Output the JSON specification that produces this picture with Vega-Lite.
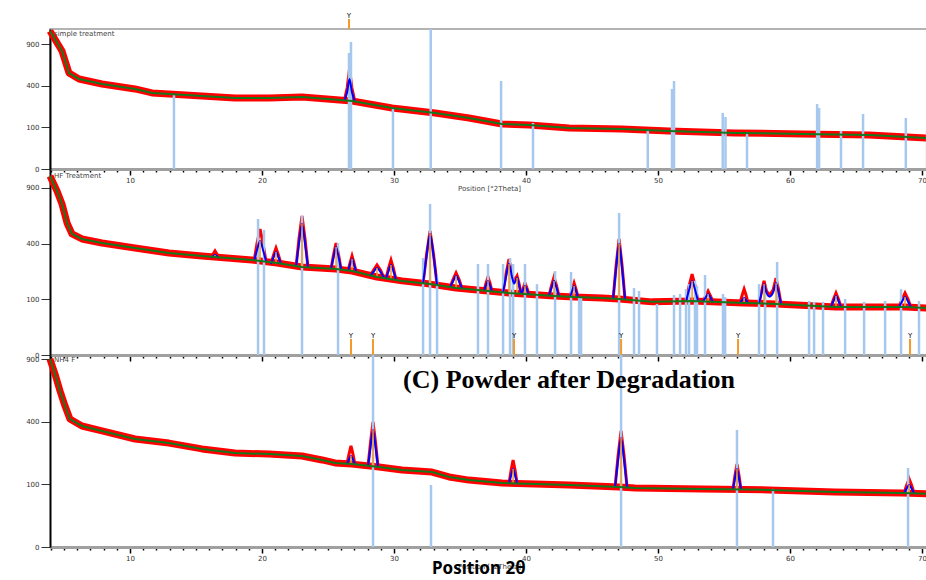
{
  "$schema": "https://vega.github.io/schema/vega-lite/v6.json",
  "background": "white",
  "padding": {"left": 24, "top": 11, "right": 0, "bottom": 0},
  "bounds": "flush",
  "spacing": 0,
  "title": {"text": "Position 2θ", "orient": "bottom", "anchor": "middle", "font": "Noto Sans", "fontSize": 17, "fontWeight": "bold", "color": "#000000", "offset": -8},
  "datasets": {
    "p1_bg": [{"x":3.94,"y":1097},{"x":4.85,"y":802},{"x":5.38,"y":531},{"x":6.14,"y":467},{"x":7.88,"y":416},{"x":10.38,"y":369},{"x":11.67,"y":333},{"x":12.95,"y":324},{"x":15.45,"y":307},{"x":17.95,"y":290},{"x":20.53,"y":290},{"x":23.03,"y":299},{"x":26.82,"y":266},{"x":29.85,"y":214},{"x":33.11,"y":181},{"x":35.68,"y":150},{"x":38.18,"y":117},{"x":40.23,"y":112},{"x":43.26,"y":97},{"x":47.27,"y":92},{"x":50.83,"y":83},{"x":55.83,"y":75},{"x":60.91,"y":71},{"x":65.98,"y":67},{"x":70.45,"y":55}],
    "p1_pk": [{"pk":1,"x":26.23,"fit":268,"obs":268},{"pk":1,"x":26.45,"fit":341,"obs":378},{"pk":1,"x":26.63,"fit":467,"obs":576,"base":266},{"pk":1,"x":26.81,"fit":341,"obs":378},{"pk":1,"x":27.03,"fit":264,"obs":264}],
    "p1_st": [{"x":13.33,"top":324},{"x":26.59,"top":775},{"x":26.74,"top":929},{"x":29.92,"top":214},{"x":32.78,"top":1129},{"x":38.11,"top":446},{"x":40.53,"top":122},{"x":49.22,"top":92},{"x":51.06,"top":369},{"x":51.21,"top":446},{"x":54.9,"top":181},{"x":55.11,"top":156},{"x":56.74,"top":79},{"x":62.05,"top":243},{"x":62.2,"top":214},{"x":63.86,"top":83},{"x":65.53,"top":174},{"x":68.77,"top":150},{"x":70.38,"top":83}],
    "p1_mk": [{"x":26.59}],
    "p2_bg": [{"x":3.94,"y":1033},{"x":4.47,"y":867},{"x":4.85,"y":735},{"x":5.23,"y":562},{"x":5.61,"y":472},{"x":6.36,"y":434},{"x":7.88,"y":404},{"x":10.38,"y":369},{"x":12.95,"y":335},{"x":15.45,"y":316},{"x":19.24,"y":291},{"x":21.14,"y":273},{"x":23.03,"y":250},{"x":25.6,"y":238},{"x":26.82,"y":227},{"x":28.71,"y":196},{"x":30.61,"y":177},{"x":32.73,"y":162},{"x":34.7,"y":145},{"x":37.12,"y":132},{"x":38.71,"y":124},{"x":42.12,"y":112},{"x":43.64,"y":108},{"x":45.76,"y":105},{"x":47.05,"y":101},{"x":49.55,"y":91},{"x":52.58,"y":94},{"x":56.52,"y":87},{"x":58.94,"y":84},{"x":63.48,"y":74},{"x":68.71,"y":74},{"x":70.45,"y":71}],
    "p2_pk": [
      {"pk":1,"x":16.14,"fit":303,"obs":303},{"pk":1,"x":16.29,"fit":314,"obs":328},{"pk":1,"x":16.44,"fit":322,"obs":349,"base":303},{"pk":1,"x":16.59,"fit":314,"obs":328},{"pk":1,"x":16.74,"fit":303,"obs":303},
      {"pk":2,"x":19.4,"fit":285,"obs":285},{"pk":2,"x":19.62,"fit":355,"obs":401},{"pk":2,"x":19.85,"fit":419,"obs":512,"base":285},{"pk":2,"x":20.08,"fit":355,"obs":401},{"pk":2,"x":20.3,"fit":283,"obs":283},
      {"pk":3,"x":20.68,"fit":267,"obs":267},{"pk":3,"x":20.87,"fit":307,"obs":321},{"pk":3,"x":21.06,"fit":342,"obs":369,"base":267},{"pk":3,"x":21.25,"fit":307,"obs":321},{"pk":3,"x":21.44,"fit":267,"obs":267},
      {"pk":4,"x":22.58,"fit":252,"obs":252},{"pk":4,"x":22.8,"fit":402,"obs":434},{"pk":4,"x":23.03,"fit":553,"obs":623,"base":250},{"pk":4,"x":23.26,"fit":402,"obs":434},{"pk":4,"x":23.48,"fit":248,"obs":248},
      {"pk":5,"x":25.23,"fit":240,"obs":240},{"pk":5,"x":25.42,"fit":310,"obs":324},{"pk":5,"x":25.61,"fit":376,"obs":404,"base":238},{"pk":5,"x":25.8,"fit":310,"obs":324},{"pk":5,"x":25.99,"fit":236,"obs":236},
      {"pk":6,"x":26.52,"fit":229,"obs":229},{"pk":6,"x":26.67,"fit":265,"obs":274},{"pk":6,"x":26.82,"fit":297,"obs":316,"base":227},{"pk":6,"x":26.97,"fit":265,"obs":274},{"pk":6,"x":27.12,"fit":225,"obs":225},
      {"pk":7,"x":28.18,"fit":200,"obs":200},{"pk":7,"x":28.44,"fit":222,"obs":231},{"pk":7,"x":28.71,"fit":244,"obs":261,"base":196},{"pk":7,"x":28.98,"fit":222,"obs":231},{"pk":7,"x":29.24,"fit":192,"obs":192},
      {"pk":8,"x":29.39,"fit":188,"obs":188},{"pk":8,"x":29.58,"fit":226,"obs":241},{"pk":8,"x":29.77,"fit":261,"obs":291,"base":186},{"pk":8,"x":29.96,"fit":226,"obs":241},{"pk":8,"x":30.15,"fit":182,"obs":182},
      {"pk":9,"x":32.2,"fit":165,"obs":165},{"pk":9,"x":32.46,"fit":313,"obs":323},{"pk":9,"x":32.73,"fit":472,"obs":496,"base":162},{"pk":9,"x":33.0,"fit":313,"obs":323},{"pk":9,"x":33.26,"fit":159,"obs":159},
      {"pk":10,"x":34.25,"fit":148,"obs":148},{"pk":10,"x":34.47,"fit":175,"obs":183},{"pk":10,"x":34.7,"fit":201,"obs":217,"base":145},{"pk":10,"x":34.93,"fit":175,"obs":183},{"pk":10,"x":35.15,"fit":143,"obs":143},
      {"pk":11,"x":36.82,"fit":134,"obs":134},{"pk":11,"x":36.97,"fit":156,"obs":166},{"pk":11,"x":37.12,"fit":177,"obs":196,"base":132},{"pk":11,"x":37.27,"fit":156,"obs":166},{"pk":11,"x":37.42,"fit":131,"obs":131},
      {"pk":12,"x":38.26,"fit":126,"obs":126},{"pk":12,"x":38.48,"fit":196,"obs":210},{"pk":12,"x":38.71,"fit":267,"obs":297,"base":124},{"pk":12,"x":38.94,"fit":196,"obs":210},{"pk":12,"x":39.1,"fit":165,"obs":175},{"pk":12,"x":39.32,"fit":191,"obs":201,"base":123},{"pk":12,"x":39.47,"fit":159,"obs":164},{"pk":12,"x":39.62,"fit":122,"obs":122},
      {"pk":13,"x":39.66,"fit":122,"obs":122},{"pk":13,"x":39.79,"fit":138,"obs":145},{"pk":13,"x":39.92,"fit":153,"obs":167,"base":120},{"pk":13,"x":40.07,"fit":138,"obs":145},{"pk":13,"x":40.22,"fit":118,"obs":118},
      {"pk":14,"x":41.74,"fit":113,"obs":113},{"pk":14,"x":41.93,"fit":146,"obs":155},{"pk":14,"x":42.12,"fit":177,"obs":196,"base":112},{"pk":14,"x":42.31,"fit":146,"obs":155},{"pk":14,"x":42.5,"fit":111,"obs":111},
      {"pk":15,"x":43.34,"fit":109,"obs":109},{"pk":15,"x":43.49,"fit":132,"obs":139},{"pk":15,"x":43.64,"fit":153,"obs":167,"base":108},{"pk":15,"x":43.79,"fit":132,"obs":139},{"pk":15,"x":43.94,"fit":107,"obs":107},
      {"pk":16,"x":46.6,"fit":102,"obs":102},{"pk":16,"x":46.82,"fit":240,"obs":255},{"pk":16,"x":47.05,"fit":397,"obs":434,"base":101},{"pk":16,"x":47.28,"fit":240,"obs":255},{"pk":16,"x":47.5,"fit":100,"obs":100},
      {"pk":17,"x":52.13,"fit":94,"obs":94},{"pk":17,"x":52.35,"fit":136,"obs":153},{"pk":17,"x":52.58,"fit":177,"obs":211,"base":94},{"pk":17,"x":52.81,"fit":136,"obs":153},{"pk":17,"x":53.03,"fit":93,"obs":93},
      {"pk":18,"x":53.41,"fit":92,"obs":92},{"pk":18,"x":53.6,"fit":106,"obs":112},{"pk":18,"x":53.79,"fit":120,"obs":132,"base":91},{"pk":18,"x":53.98,"fit":106,"obs":112},{"pk":18,"x":54.17,"fit":90,"obs":90},
      {"pk":19,"x":56.22,"fit":88,"obs":88},{"pk":19,"x":56.37,"fit":97,"obs":115},{"pk":19,"x":56.52,"fit":105,"obs":140,"base":87},{"pk":19,"x":56.67,"fit":97,"obs":115},{"pk":19,"x":56.82,"fit":86,"obs":86},
      {"pk":20,"x":57.65,"fit":85,"obs":85},{"pk":20,"x":57.84,"fit":124,"obs":131},{"pk":20,"x":58.03,"fit":162,"obs":177,"base":84},{"pk":20,"x":58.22,"fit":124,"obs":131},{"pk":20,"x":58.45,"fit":110,"obs":115},{"pk":20,"x":58.72,"fit":126,"obs":137},{"pk":20,"x":58.94,"fit":167,"obs":191,"base":84},{"pk":20,"x":59.13,"fit":126,"obs":137},{"pk":20,"x":59.32,"fit":84,"obs":84},
      {"pk":22,"x":63.1,"fit":75,"obs":75},{"pk":22,"x":63.29,"fit":94,"obs":100},{"pk":22,"x":63.48,"fit":112,"obs":124,"base":74},{"pk":22,"x":63.67,"fit":94,"obs":100},{"pk":22,"x":63.86,"fit":74,"obs":74},
      {"pk":23,"x":68.26,"fit":74,"obs":74},{"pk":23,"x":68.48,"fit":92,"obs":100},{"pk":23,"x":68.71,"fit":108,"obs":124,"base":74},{"pk":23,"x":68.94,"fit":92,"obs":100},{"pk":23,"x":69.16,"fit":73,"obs":73}
    ],
    "p2_st": [{"x":19.7,"top":596},{"x":20.15,"top":504},{"x":23.03,"top":623},{"x":25.76,"top":404},{"x":32.2,"top":303},{"x":32.73,"top":735},{"x":33.26,"top":201},{"x":36.36,"top":267},{"x":37.12,"top":267},{"x":38.26,"top":267},{"x":38.79,"top":303},{"x":39.02,"top":267},{"x":39.92,"top":267},{"x":40.83,"top":162},{"x":42.2,"top":227},{"x":43.41,"top":222},{"x":44.02,"top":105},{"x":44.17,"top":105},{"x":47.05,"top":650},{"x":48.18,"top":145},{"x":48.56,"top":132},{"x":49.92,"top":84},{"x":51.21,"top":116},{"x":51.67,"top":120},{"x":52.12,"top":140},{"x":52.35,"top":162},{"x":52.8,"top":177},{"x":52.95,"top":153},{"x":53.56,"top":206},{"x":54.92,"top":120},{"x":55.08,"top":108},{"x":57.65,"top":162},{"x":58.11,"top":153},{"x":59.02,"top":279},{"x":61.44,"top":94},{"x":61.82,"top":91},{"x":62.5,"top":91},{"x":64.17,"top":101},{"x":65.61,"top":91},{"x":67.2,"top":94},{"x":68.41,"top":140},{"x":69.77,"top":94}],
    "p2_mk": [{"x":26.74},{"x":28.41},{"x":39.09},{"x":47.2},{"x":56.06},{"x":69.09}],
    "p3_bg": [{"x":3.94,"y":900},{"x":4.32,"y":762},{"x":4.7,"y":620},{"x":5.08,"y":506},{"x":5.45,"y":417},{"x":6.36,"y":373},{"x":7.88,"y":343},{"x":10.38,"y":297},{"x":12.95,"y":275},{"x":15.45,"y":245},{"x":17.95,"y":225},{"x":20.53,"y":220},{"x":23.03,"y":211},{"x":24.55,"y":193},{"x":25.53,"y":180},{"x":26.82,"y":175},{"x":28.86,"y":163},{"x":30.61,"y":151},{"x":32.88,"y":143},{"x":34.17,"y":125},{"x":35.68,"y":114},{"x":38.18,"y":104},{"x":40.68,"y":101},{"x":43.26,"y":98},{"x":47.05,"y":92},{"x":48.26,"y":89},{"x":53.33,"y":86},{"x":58.41,"y":83},{"x":63.41,"y":77},{"x":68.48,"y":74},{"x":70.45,"y":72}],
    "p3_pk": [
      {"pk":1,"x":26.44,"fit":177,"obs":177},{"pk":1,"x":26.59,"fit":195,"obs":220},{"pk":1,"x":26.74,"fit":211,"obs":260,"base":175},{"pk":1,"x":26.89,"fit":195,"obs":220},{"pk":1,"x":27.04,"fit":173,"obs":173},
      {"pk":2,"x":28.03,"fit":166,"obs":166},{"pk":2,"x":28.22,"fit":256,"obs":279},{"pk":2,"x":28.41,"fit":349,"obs":398,"base":163},{"pk":2,"x":28.6,"fit":256,"obs":279},{"pk":2,"x":28.79,"fit":162,"obs":162},
      {"pk":3,"x":38.72,"fit":105,"obs":105},{"pk":3,"x":38.87,"fit":131,"obs":150},{"pk":3,"x":39.02,"fit":155,"obs":193,"base":104},{"pk":3,"x":39.17,"fit":131,"obs":150},{"pk":3,"x":39.32,"fit":104,"obs":104},
      {"pk":4,"x":46.75,"fit":93,"obs":93},{"pk":4,"x":46.97,"fit":192,"obs":210},{"pk":4,"x":47.2,"fit":303,"obs":343,"base":92},{"pk":4,"x":47.43,"fit":192,"obs":210},{"pk":4,"x":47.65,"fit":91,"obs":91},
      {"pk":5,"x":55.68,"fit":86,"obs":86},{"pk":5,"x":55.83,"fit":121,"obs":131},{"pk":5,"x":55.98,"fit":155,"obs":175,"base":86},{"pk":5,"x":56.13,"fit":121,"obs":131},{"pk":5,"x":56.28,"fit":85,"obs":85},
      {"pk":6,"x":68.64,"fit":74,"obs":74},{"pk":6,"x":68.83,"fit":87,"obs":97},{"pk":6,"x":69.02,"fit":98,"obs":118,"base":74},{"pk":6,"x":69.21,"fit":87,"obs":97},{"pk":6,"x":69.4,"fit":73,"obs":73}
    ],
    "p3_st": [{"x":28.41,"top":939},{"x":32.8,"top":98},{"x":47.2,"top":939},{"x":55.98,"top":349},{"x":58.71,"top":86},{"x":68.94,"top":159}]
  },
  "vconcat": [
    {
      "width": 878, "height": 140,
      "view": {"stroke": "#9a9a9a", "strokeWidth": 1.5},
      "encoding": {
        "x": {"field": "x", "type": "quantitative", "scale": {"domain": [3.94, 70.45], "nice": false, "zero": false},
          "axis": {"values": [4,5,6,7,8,9,10,11,12,13,14,15,16,17,18,19,20,21,22,23,24,25,26,27,28,29,30,31,32,33,34,35,36,37,38,39,40,41,42,43,44,45,46,47,48,49,50,51,52,53,54,55,56,57,58,59,60,61,62,63,64,65,66,67,68,69,70], "labelExpr": "datum.value % 10 === 0 ? datum.label : ''", "tickSize": {"condition": {"test": "datum.value % 10 === 0", "value": 6}, "value": 3}, "tickColor": "#000000", "tickWidth": 1.5, "domainColor": "#a0a0a0", "domainWidth": 3, "labelFontSize": 7, "labelColor": "#333333", "labelPadding": 1, "labelFlush": false, "labelOverlap": false, "grid": false, "title": "Position [°2Theta]", "titleFontSize": 7, "titleFontWeight": "normal", "titleColor": "#444444", "titlePadding": 1}}
      },
      "layer": [
        {"data": {"name": "p1_bg"}, "mark": {"type": "line", "color": "#ff0000", "strokeWidth": 7, "strokeJoin": "round"},
          "encoding": {"y": {"field": "y", "type": "quantitative", "title": null, "scale": {"type": "sqrt", "domain": [0, 1129], "nice": false},
            "axis": {"values": [0,100,400,900], "domainColor": "#000000", "domainWidth": 2, "tickColor": "#333333", "tickSize": 9, "labelFontSize": 7, "labelColor": "#333333", "labelPadding": 2, "grid": false, "labelOverlap": false}}}},
        {"data": {"name": "p1_pk"}, "mark": {"type": "line", "color": "#ff0000", "strokeWidth": 3},
          "encoding": {"detail": {"field": "pk"}, "y": {"field": "obs", "type": "quantitative", "title": null, "scale": {"type": "sqrt", "domain": [0, 1129], "nice": false}}}},
        {"data": {"name": "p1_st"}, "mark": {"type": "rule", "color": "#a6c8ee", "strokeWidth": 2.5},
          "encoding": {"y": {"field": "top", "type": "quantitative", "title": null, "scale": {"type": "sqrt", "domain": [0, 1129], "nice": false}}, "y2": {"datum": 0}}},
        {"data": {"name": "p1_pk"}, "mark": {"type": "line", "color": "#0000ff", "strokeWidth": 2, "interpolate": "monotone"},
          "encoding": {"detail": {"field": "pk"}, "y": {"field": "fit", "type": "quantitative", "title": null, "scale": {"type": "sqrt", "domain": [0, 1129], "nice": false}}}},
        {"data": {"name": "p1_bg"}, "mark": {"type": "line", "color": "#137a1c", "strokeWidth": 2},
          "encoding": {"y": {"field": "y", "type": "quantitative", "title": null, "scale": {"type": "sqrt", "domain": [0, 1129], "nice": false}}}},
        {"data": {"name": "p1_mk"}, "mark": {"type": "rule", "color": "#f39a2b", "strokeWidth": 2},
          "encoding": {"y": {"datum": 1129, "scale": {"type": "sqrt", "domain": [0, 1129], "nice": false}}, "y2": {"datum": 1296}}},
        {"data": {"name": "p1_mk"}, "mark": {"type": "text", "text": "Y", "fontSize": 7, "baseline": "bottom", "color": "#000000", "font": "DejaVu Sans"},
          "encoding": {"y": {"datum": 1296, "scale": {"type": "sqrt", "domain": [0, 1129], "nice": false}}}},
        {"data": {"name": "p1_bg"}, "mark": {"type": "text", "text": "simple treatment", "align": "left", "baseline": "top", "fontSize": 7, "color": "#444444", "font": "DejaVu Sans", "dx": 4, "dy": 1},
          "encoding": {"x": {"aggregate": "min", "field": "x", "type": "quantitative", "title": null, "scale": {"domain": [3.94, 70.45], "nice": false, "zero": false}}, "y": {"datum": 1129, "scale": {"type": "sqrt", "domain": [0, 1129], "nice": false}}}}
      ]
    },
    {
      "width": 878, "height": 186,
      "view": {"stroke": null},
      "encoding": {
        "x": {"field": "x", "type": "quantitative", "scale": {"domain": [3.94, 70.45], "nice": false, "zero": false},
          "axis": {"values": [4,5,6,7,8,9,10,11,12,13,14,15,16,17,18,19,20,21,22,23,24,25,26,27,28,29,30,31,32,33,34,35,36,37,38,39,40,41,42,43,44,45,46,47,48,49,50,51,52,53,54,55,56,57,58,59,60,61,62,63,64,65,66,67,68,69,70], "labels": false, "tickSize": {"condition": {"test": "datum.value % 10 === 0", "value": 6}, "value": 3}, "tickColor": "#000000", "tickWidth": 1.5, "domainColor": "#a0a0a0", "domainWidth": 3, "grid": false, "title": null}}
      },
      "layer": [
        {"data": {"name": "p2_bg"}, "mark": {"type": "line", "color": "#ff0000", "strokeWidth": 7, "strokeJoin": "round"},
          "encoding": {"y": {"field": "y", "type": "quantitative", "title": null, "scale": {"type": "sqrt", "domain": [0, 1115], "nice": false},
            "axis": {"values": [0,100,400,900], "domainColor": "#000000", "domainWidth": 2, "tickColor": "#333333", "tickSize": 9, "labelFontSize": 7, "labelColor": "#333333", "labelPadding": 2, "grid": false, "labelOverlap": false}}}},
        {"data": {"name": "p2_pk"}, "mark": {"type": "line", "color": "#ff0000", "strokeWidth": 3},
          "encoding": {"detail": {"field": "pk"}, "y": {"field": "obs", "type": "quantitative", "title": null, "scale": {"type": "sqrt", "domain": [0, 1115], "nice": false}}}},
        {"data": {"name": "p2_st"}, "mark": {"type": "rule", "color": "#a6c8ee", "strokeWidth": 2.5},
          "encoding": {"y": {"field": "top", "type": "quantitative", "title": null, "scale": {"type": "sqrt", "domain": [0, 1115], "nice": false}}, "y2": {"datum": 0}}},
        {"data": {"name": "p2_pk"}, "mark": {"type": "line", "color": "#0000ff", "strokeWidth": 2, "interpolate": "monotone"},
          "encoding": {"detail": {"field": "pk"}, "y": {"field": "fit", "type": "quantitative", "title": null, "scale": {"type": "sqrt", "domain": [0, 1115], "nice": false}}}},
        {"data": {"name": "p2_pk"}, "transform": [{"filter": "isValid(datum.base)"}], "mark": {"type": "rule", "color": "#f39a2b", "strokeWidth": 1.5},
          "encoding": {"y": {"field": "fit", "type": "quantitative", "title": null, "scale": {"type": "sqrt", "domain": [0, 1115], "nice": false}}, "y2": {"field": "base"}}},
        {"data": {"name": "p2_bg"}, "mark": {"type": "line", "color": "#137a1c", "strokeWidth": 2},
          "encoding": {"y": {"field": "y", "type": "quantitative", "title": null, "scale": {"type": "sqrt", "domain": [0, 1115], "nice": false}}}},
        {"data": {"name": "p2_mk"}, "mark": {"type": "rule", "color": "#f39a2b", "strokeWidth": 2},
          "encoding": {"y": {"datum": 0, "scale": {"type": "sqrt", "domain": [0, 1115], "nice": false}}, "y2": {"datum": 8.3}}},
        {"data": {"name": "p2_mk"}, "mark": {"type": "text", "text": "Y", "fontSize": 7, "baseline": "bottom", "color": "#000000", "font": "DejaVu Sans"},
          "encoding": {"y": {"datum": 8.3, "scale": {"type": "sqrt", "domain": [0, 1115], "nice": false}}}},
        {"data": {"name": "p2_bg"}, "mark": {"type": "text", "text": "HF Treatment", "align": "left", "baseline": "top", "fontSize": 7, "color": "#444444", "font": "DejaVu Sans", "dx": 4, "dy": 3},
          "encoding": {"x": {"aggregate": "min", "field": "x", "type": "quantitative", "title": null, "scale": {"domain": [3.94, 70.45], "nice": false, "zero": false}}, "y": {"datum": 1115, "scale": {"type": "sqrt", "domain": [0, 1115], "nice": false}}}}
      ]
    },
    {
      "width": 878, "height": 192,
      "view": {"stroke": null},
      "encoding": {
        "x": {"field": "x", "type": "quantitative", "scale": {"domain": [3.94, 70.45], "nice": false, "zero": false},
          "axis": {"values": [4,5,6,7,8,9,10,11,12,13,14,15,16,17,18,19,20,21,22,23,24,25,26,27,28,29,30,31,32,33,34,35,36,37,38,39,40,41,42,43,44,45,46,47,48,49,50,51,52,53,54,55,56,57,58,59,60,61,62,63,64,65,66,67,68,69,70], "labelExpr": "datum.value % 10 === 0 ? datum.label : ''", "tickSize": {"condition": {"test": "datum.value % 10 === 0", "value": 6}, "value": 3}, "tickColor": "#000000", "tickWidth": 1.5, "domainColor": "#a0a0a0", "domainWidth": 3, "labelFontSize": 7, "labelColor": "#333333", "labelPadding": 1, "labelFlush": false, "labelOverlap": false, "grid": false, "title": "Position [°2Theta]", "titleFontSize": 7, "titleFontWeight": "normal", "titleColor": "#444444", "titlePadding": 1}}
      },
      "layer": [
        {"data": {"name": "p3_bg"}, "mark": {"type": "line", "color": "#ff0000", "strokeWidth": 7, "strokeJoin": "round"},
          "encoding": {"y": {"field": "y", "type": "quantitative", "title": null, "scale": {"type": "sqrt", "domain": [0, 939], "nice": false},
            "axis": {"values": [0,100,400,900], "domainColor": "#000000", "domainWidth": 2, "tickColor": "#333333", "tickSize": 9, "labelFontSize": 7, "labelColor": "#333333", "labelPadding": 2, "grid": false, "labelOverlap": false}}}},
        {"data": {"name": "p3_pk"}, "mark": {"type": "line", "color": "#ff0000", "strokeWidth": 3},
          "encoding": {"detail": {"field": "pk"}, "y": {"field": "obs", "type": "quantitative", "title": null, "scale": {"type": "sqrt", "domain": [0, 939], "nice": false}}}},
        {"data": {"name": "p3_st"}, "mark": {"type": "rule", "color": "#a6c8ee", "strokeWidth": 2.5},
          "encoding": {"y": {"field": "top", "type": "quantitative", "title": null, "scale": {"type": "sqrt", "domain": [0, 939], "nice": false}}, "y2": {"datum": 0}}},
        {"data": {"name": "p3_pk"}, "mark": {"type": "line", "color": "#0000ff", "strokeWidth": 2, "interpolate": "monotone"},
          "encoding": {"detail": {"field": "pk"}, "y": {"field": "fit", "type": "quantitative", "title": null, "scale": {"type": "sqrt", "domain": [0, 939], "nice": false}}}},
        {"data": {"name": "p3_pk"}, "transform": [{"filter": "isValid(datum.base)"}], "mark": {"type": "rule", "color": "#f39a2b", "strokeWidth": 1.5},
          "encoding": {"y": {"field": "fit", "type": "quantitative", "title": null, "scale": {"type": "sqrt", "domain": [0, 939], "nice": false}}, "y2": {"field": "base"}}},
        {"data": {"name": "p3_bg"}, "mark": {"type": "line", "color": "#137a1c", "strokeWidth": 2},
          "encoding": {"y": {"field": "y", "type": "quantitative", "title": null, "scale": {"type": "sqrt", "domain": [0, 939], "nice": false}}}},
        {"data": {"name": "p3_bg"}, "mark": {"type": "text", "text": "NH4 F", "align": "left", "baseline": "top", "fontSize": 7, "color": "#444444", "font": "DejaVu Sans", "dx": 4, "dy": 1},
          "encoding": {"x": {"aggregate": "min", "field": "x", "type": "quantitative", "title": null, "scale": {"domain": [3.94, 70.45], "nice": false, "zero": false}}, "y": {"datum": 939, "scale": {"type": "sqrt", "domain": [0, 939], "nice": false}}}},
        {"data": {"name": "p3_st"}, "mark": {"type": "text", "text": "(C) Powder after Degradation", "align": "center", "baseline": "middle", "fontSize": 26, "fontWeight": "bold", "color": "#000000", "font": "Liberation Serif", "dx": -110},
          "encoding": {"x": {"aggregate": "median", "field": "x", "type": "quantitative", "title": null, "scale": {"domain": [3.94, 70.45], "nice": false, "zero": false}}, "y": {"datum": 710, "scale": {"type": "sqrt", "domain": [0, 939], "nice": false}}}}
      ]
    }
  ],
  "config": {
    "view": {"stroke": null},
    "font": "DejaVu Sans",
    "axis": {"labelFont": "DejaVu Sans", "titleFont": "DejaVu Sans"}
  }
}
